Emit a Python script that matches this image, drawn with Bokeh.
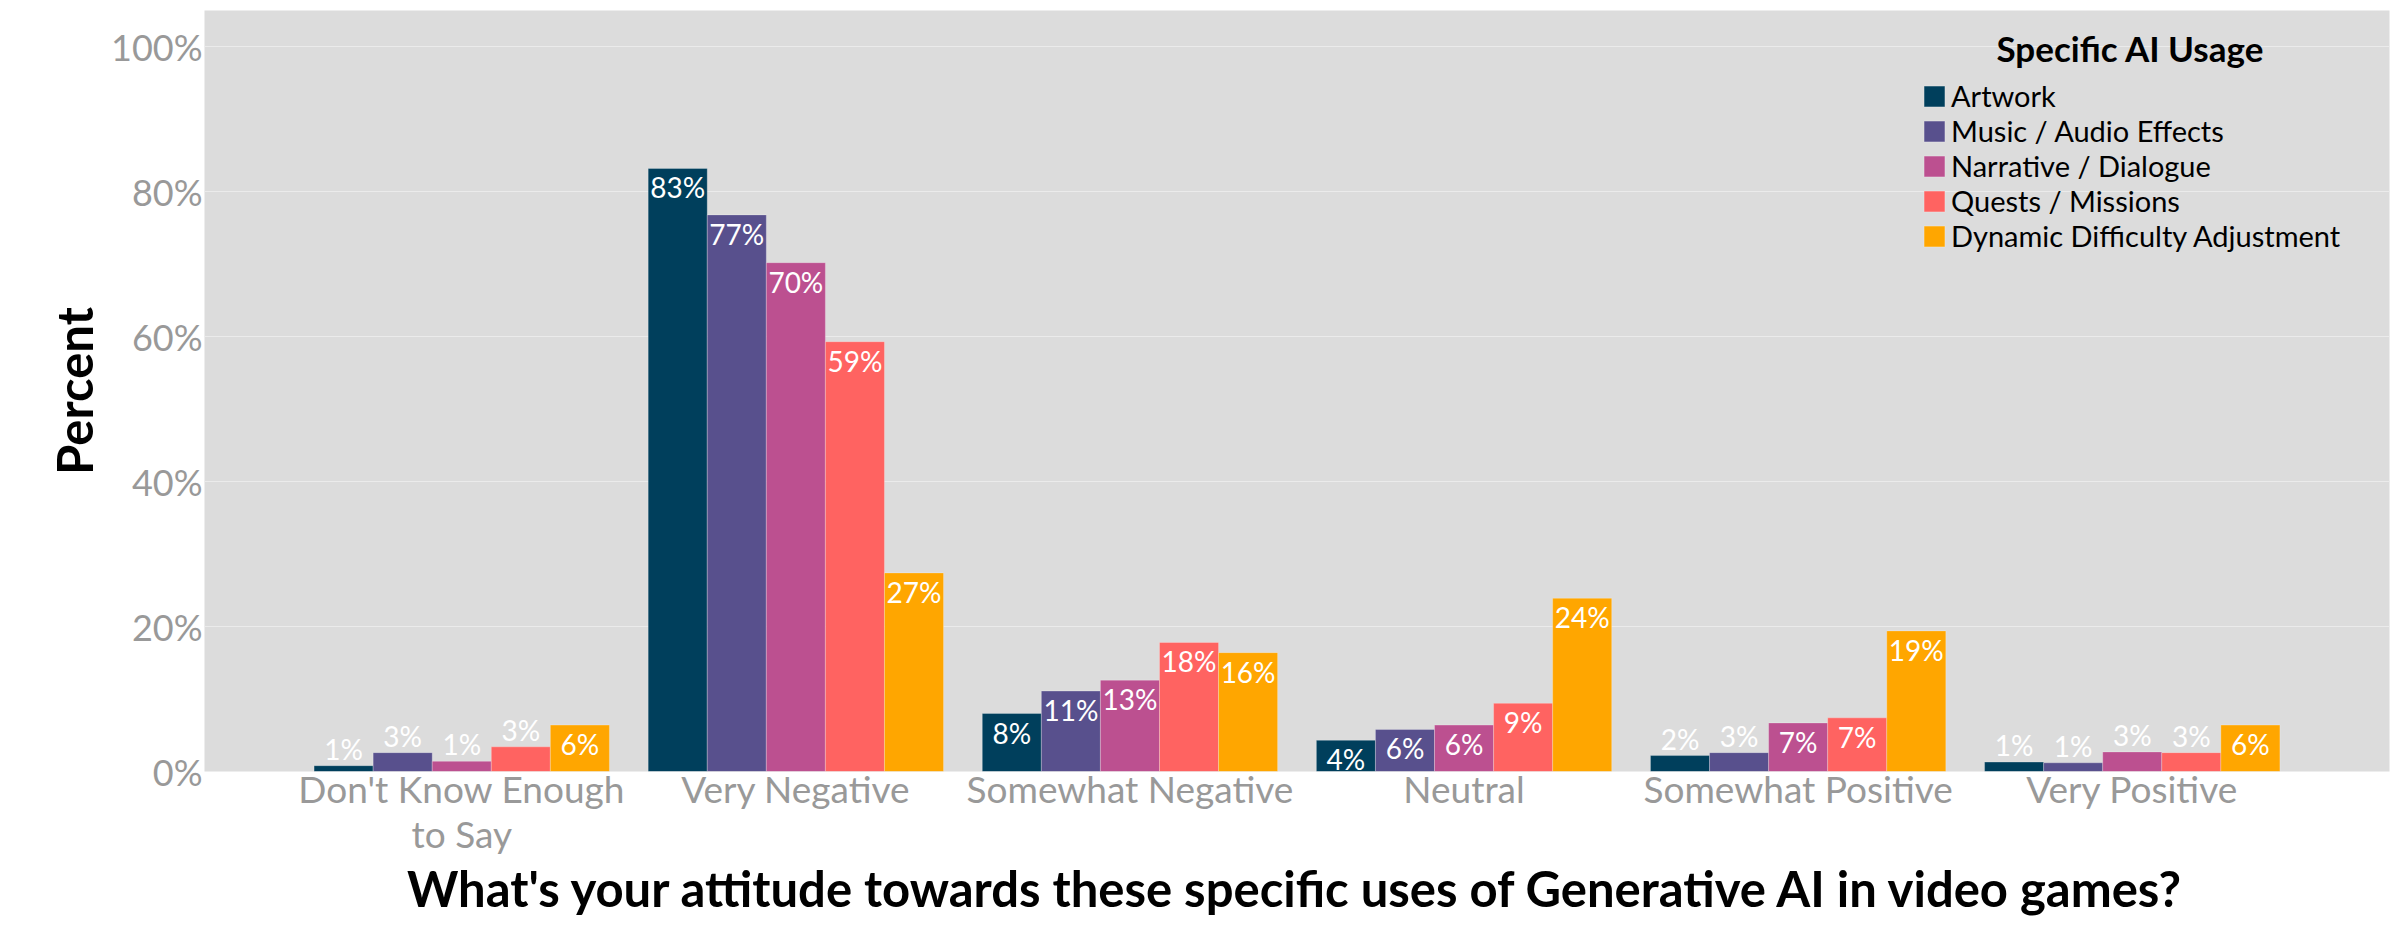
from bokeh.plotting import figure
from bokeh.models import (ColumnDataSource, Range1d, FixedTicker, PrintfTickFormatter,
                          Legend, LegendItem, Label)
from bokeh.transform import dodge
from bokeh.core.properties import value
from bokeh.embed import file_html
from bokeh.resources import INLINE

# ---------------- data ----------------
categories = ["Don't Know Enough\nto Say", "Very Negative", "Somewhat Negative",
              "Neutral", "Somewhat Positive", "Very Positive"]
series_names = ["Artwork", "Music / Audio Effects", "Narrative / Dialogue",
                "Quests / Missions", "Dynamic Difficulty Adjustment"]
artwork = [0.8, 83.2, 8.0, 4.3, 2.2, 1.3]
music = [2.6, 76.8, 11.1, 5.8, 2.6, 1.2]
narrative = [1.4, 70.2, 12.6, 6.4, 6.7, 2.7]
quests = [3.4, 59.3, 17.8, 9.4, 7.4, 2.6]
dda = [6.4, 27.4, 16.4, 23.9, 19.4, 6.4]
y_ticks = [0, 20, 40, 60, 80, 100]

series_values = [artwork, music, narrative, quests, dda]
colors = ["#003f5c", "#58508d", "#bc5090", "#ff6361", "#ffa600"]

FONT = "Lato"
GROUP_W = 0.884
BAR_W = GROUP_W / len(series_names)

p = figure(width=2394, height=929, output_backend="svg", toolbar_location=None,
           x_range=Range1d(0.23, 6.77), y_range=Range1d(0, 105),
           min_border_left=204, min_border_right=5, min_border_top=10,
           min_border_bottom=158,
           background_fill_color="#dcdcdc", border_fill_color="white",
           outline_line_color=None)

xs = [i + 1 for i in range(len(categories))]
items = []
for k, (name, vals, col) in enumerate(zip(series_names, series_values, colors)):
    inside = [v >= 4 for v in vals]
    src = ColumnDataSource(dict(
        x=xs, top=vals,
        label=[f"{round(v):d}%" for v in vals],
        yoff=[19 if ins else -17 for ins in inside],
    ))
    off = (k - (len(series_names) - 1) / 2) * BAR_W
    r = p.vbar(x=dodge("x", off), top="top", bottom=0, width=BAR_W, source=src,
               fill_color=col, line_color="white", line_alpha=0.25, line_width=1)
    p.text(x=dodge("x", off), y="top", text="label", y_offset="yoff", source=src,
           text_color="white", text_font=value(FONT), text_font_size="28px",
           text_align="center", text_baseline="middle")
    items.append(LegendItem(label=name, renderers=[r]))

# axes
p.xaxis.ticker = FixedTicker(ticks=xs)
p.xaxis.major_label_overrides = {x: c for x, c in zip(xs, categories)}
p.yaxis.ticker = FixedTicker(ticks=y_ticks)
p.yaxis.formatter = PrintfTickFormatter(format="%d%%")
for ax in (p.xaxis[0], p.yaxis[0]):
    ax.axis_line_color = None
    ax.major_tick_line_color = None
    ax.minor_tick_line_color = None
    ax.major_tick_out = 0
    ax.major_tick_in = 0
    ax.minor_tick_out = 0
    ax.minor_tick_in = 0
    ax.major_label_text_font = FONT
    ax.major_label_text_color = "#999999"
    ax.major_label_text_line_height = 1.0
    ax.axis_label_text_font = FONT
    ax.axis_label_text_font_style = "bold"
    ax.axis_label_text_color = "black"
    ax.axis_label_text_font_size = "49px"
p.xaxis.major_label_text_font_size = "37px"
p.yaxis.major_label_text_font_size = "36px"
p.xaxis.major_label_standoff = -6
p.yaxis.major_label_standoff = 2
p.xaxis.axis_label = "What's your attitude towards these specific uses of Generative AI in video games?"
p.yaxis.axis_label = "Percent"
p.xaxis.axis_label_standoff = 0
p.yaxis.axis_label_standoff = 5

p.xgrid.grid_line_color = None
p.ygrid.grid_line_color = "#ebebeb"
p.ygrid.grid_line_width = 1

legend = Legend(items=items, location=(1717, 518), padding=0, margin=0,
                background_fill_alpha=0, border_line_alpha=0,
                label_text_font=FONT, label_text_font_size="29px",
                label_text_color="black",
                glyph_width=26, glyph_height=26, label_standoff=4,
                label_height=26, spacing=0)
p.add_layout(legend, "center")

p.add_layout(Label(x=1926, y=724, x_units="screen", y_units="screen",
                   text="Specific AI Usage", text_font=FONT, text_font_size="35px",
                   text_font_style="bold", text_align="center",
                   text_baseline="middle", text_color="black"))

open("out.html", "w").write(file_html(p, INLINE))
